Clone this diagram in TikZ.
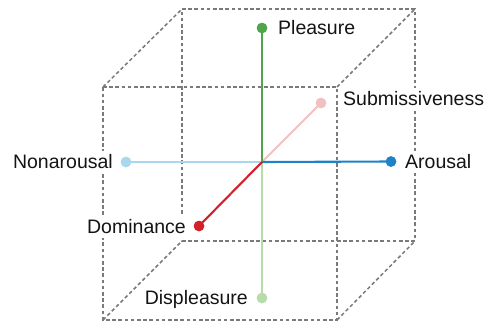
\documentclass[tikz,border=0pt]{standalone}
\usepackage{fontspec}
\setmainfont{Liberation Sans}
\definecolor{edgegray}{HTML}{7A7A7A}
\definecolor{gdark}{HTML}{4FA54A}
\definecolor{glight}{HTML}{B6DDA9}
\definecolor{bdark}{HTML}{1F82C8}
\definecolor{blight}{HTML}{A9D8EE}
\definecolor{rdark}{HTML}{D4202A}
\definecolor{rlight}{HTML}{F2C0C1}
\definecolor{txt}{HTML}{141414}
\begin{document}
\begin{tikzpicture}[x=1pt,y=-1pt,
  cubeedge/.style={draw=edgegray,line width=1.5pt,dash pattern=on 3.6pt off 2.6pt},
  axisline/.style={line width=2.1pt},
  dotnode/.style={circle,inner sep=0pt,minimum size=10.5pt},
  lbl/.style={font=\fontsize{19.5}{22}\selectfont,text=txt,fill=white,inner xsep=1pt,inner ysep=4pt}]
\useasboundingbox (0,0) rectangle (487,322);
% cube corners
\coordinate (F1) at (103,87);
\coordinate (F2) at (337,87);
\coordinate (F3) at (337,320);
\coordinate (F4) at (103,320);
\coordinate (B1) at (182,9);
\coordinate (B2) at (415,9);
\coordinate (B3) at (415,241);
\coordinate (B4) at (182,241);
\draw[cubeedge] (F1) -- (F2) -- (F3) -- (F4) -- cycle;
\draw[cubeedge] (B1) -- (B2) -- (B3) -- (B4) -- cycle;
\draw[cubeedge] (F1) -- (B1);
\draw[cubeedge] (F2) -- (B2);
\draw[cubeedge] (F3) -- (B3);
\draw[cubeedge] (F4) -- (B4);
% labels
\node[lbl,anchor=west] (lpl) at (277,28) {Pleasure};
\node[lbl,anchor=west] (lsu) at (342,99) {Submissiveness};
\node[lbl,anchor=west] (lar) at (404,162) {Arousal};
\node[lbl,anchor=east] (lno) at (114,162) {Nonarousal};
\node[lbl,anchor=east] (ldo) at (187,227) {Dominance};
\node[lbl,anchor=east] (ldi) at (249,299) {Displeasure};
% axes
\coordinate (O) at (262,162);
\node[dotnode,fill=gdark] (pl) at (262,28) {};
\node[dotnode,fill=glight] (di) at (262,298) {};
\node[dotnode,fill=bdark] (ar) at (391,161.5) {};
\node[dotnode,fill=blight] (no) at (126,162) {};
\node[dotnode,fill=rdark] (do) at (199,226) {};
\node[dotnode,fill=rlight] (su) at (321,103) {};
\draw[axisline,draw=glight] (O) -- (di.center);
\draw[axisline,draw=blight] (no.center) -- (O);
\draw[axisline,draw=rlight] (O) -- (su.center);
\draw[axisline,draw=gdark] (pl.center) -- (O);
\draw[axisline,draw=bdark] (O) -- (ar.center);
\draw[axisline,draw=rdark] (do.center) -- (O);
\node[dotnode,fill=gdark] at (pl) {};
\node[dotnode,fill=glight] at (di) {};
\node[dotnode,fill=bdark] at (ar) {};
\node[dotnode,fill=blight] at (no) {};
\node[dotnode,fill=rdark] at (do) {};
\node[dotnode,fill=rlight] at (su) {};
\end{tikzpicture}
\end{document}
